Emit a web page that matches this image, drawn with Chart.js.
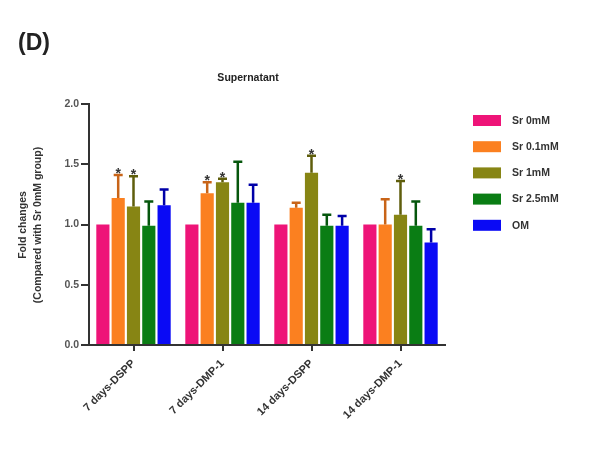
<!DOCTYPE html>
<html>
<head>
<meta charset="utf-8">
<script src="https://cdn.jsdelivr.net/npm/chart.js@4"></script>
<style>
html,body{margin:0;padding:0;background:#fff;}
#wrap{position:relative;width:602px;height:454px;}
</style>
</head>
<body>
<div id="wrap"><canvas id="c" width="602" height="454"></canvas></div>
<script>
const categories = ['7 days-DSPP', '7 days-DMP-1', '14 days-DSPP', '14 days-DMP-1'];
const seriesNames = ['Sr 0mM', 'Sr 0.1mM', 'Sr 1mM', 'Sr 2.5mM', 'OM'];
const sr0 = [1.00, 1.00, 1.00, 1.00];
const sr01 = [1.22, 1.26, 1.14, 1.00];
const sr1 = [1.15, 1.35, 1.43, 1.08];
const sr25 = [0.99, 1.18, 0.99, 0.99];
const om = [1.16, 1.18, 0.99, 0.85];
const sr0Err = [0, 0, 0, 0];
const sr01Err = [0.19, 0.09, 0.04, 0.21];
const sr1Err = [0.25, 0.03, 0.14, 0.28];
const sr25Err = [0.20, 0.34, 0.09, 0.20];
const omErr = [0.13, 0.15, 0.08, 0.11];
const sr0Sig = [0, 0, 0, 0];
const sr01Sig = [1, 1, 0, 0];
const sr1Sig = [1, 1, 1, 1];
const sr25Sig = [0, 0, 0, 0];
const omSig = [0, 0, 0, 0];
const yTicks = [0, 0.5, 1.0, 1.5, 2.0];

const colors = ['#EE1478', '#FB8020', '#878514', '#0A7D14', '#0A0AF5'];
const errColors = ['#B80E5C', '#C86418', '#5F5E0C', '#05560C', '#0000A8'];
const values = [sr0, sr01, sr1, sr25, om];
const errs = [sr0Err, sr01Err, sr1Err, sr25Err, omErr];
const sigs = [sr0Sig, sr01Sig, sr1Sig, sr25Sig, omSig];

const FONT = '"Liberation Sans", Arial, sans-serif';

const datasets = seriesNames.map((n, i) => ({
  label: n,
  data: values[i],
  errs: errs[i],
  sigs: sigs[i],
  backgroundColor: colors[i],
  errColor: errColors[i],
  borderWidth: 0,
  categoryPercentage: 0.86,
  barPercentage: 0.86
}));

const extras = {
  id: 'extras',
  afterDatasetsDraw(chart) {
    const ctx = chart.ctx;
    const y = chart.scales.y;
    chart.data.datasets.forEach((ds, di) => {
      const meta = chart.getDatasetMeta(di);
      meta.data.forEach((bar, i) => {
        const v = ds.data[i], e = ds.errs[i];
        const top = y.getPixelForValue(v + e);
        ctx.save();
        if (e > 0) {
          ctx.strokeStyle = ds.errColor;
          ctx.lineWidth = 2.5;
          ctx.beginPath();
          ctx.moveTo(bar.x, bar.y);
          ctx.lineTo(bar.x, top);
          ctx.moveTo(bar.x - 4.5, top);
          ctx.lineTo(bar.x + 4.5, top);
          ctx.stroke();
        }
        if (ds.sigs[i]) {
          ctx.fillStyle = '#333';
          ctx.font = 'bold 14px ' + FONT;
          ctx.textAlign = 'center';
          ctx.textBaseline = 'alphabetic';
          ctx.fillText('*', bar.x, top + 3);
        }
        ctx.restore();
      });
    });
  },
  afterDraw(chart) {
    const ctx = chart.ctx;
    ctx.save();
    ctx.fillStyle = '#222';
    ctx.font = 'bold 23px ' + FONT;
    ctx.textAlign = 'left';
    ctx.textBaseline = 'middle';
    ctx.fillText('(D)', 18, 44);
    ctx.font = 'bold 10.5px ' + FONT;
    ctx.textAlign = 'center';
    ctx.fillText('Supernatant', 248, 78);
    // y axis title
    ctx.save();
    ctx.translate(23, 225);
    ctx.rotate(-Math.PI / 2);
    ctx.font = 'bold 10.5px ' + FONT;
    ctx.fillStyle = '#333';
    ctx.fillText('Fold changes', 0, 0);
    ctx.fillText('(Compared with Sr 0mM group)', 0, 15);
    ctx.restore();
    // legend
    chart.data.datasets.forEach((ds, i) => {
      const yy = 120 + i * 26.2;
      ctx.fillStyle = ds.backgroundColor;
      ctx.fillRect(473, yy - 5, 28, 11);
      ctx.fillStyle = '#333';
      ctx.font = 'bold 10.5px ' + FONT;
      ctx.textAlign = 'left';
      ctx.textBaseline = 'middle';
      ctx.fillText(ds.label, 512, yy + 1);
    });
    ctx.restore();
  }
};

new Chart(document.getElementById('c'), {
  type: 'bar',
  data: { labels: categories, datasets },
  plugins: [extras],
  options: {
    responsive: false,
    animation: false,
    devicePixelRatio: 1,
    layout: { padding: { left: 0, right: 157, top: 104, bottom: 0 } },
    plugins: { legend: { display: false }, tooltip: { enabled: false } },
    scales: {
      x: {
        afterFit(s) { s.height = 109; },
        grid: { display: true, drawOnChartArea: false, offset: false, tickLength: 6, color: '#333', lineWidth: 2 },
        border: { display: true, color: '#333', width: 2 },
        ticks: { minRotation: 45, maxRotation: 45, color: '#333', font: { family: FONT, size: 11, weight: 'bold' }, padding: 6 }
      },
      y: {
        min: 0, max: 2.0,
        afterFit(s) { s.width = 89; },
        afterBuildTicks(s) { s.ticks = yTicks.map(v => ({ value: v })); },
        grid: { display: true, drawOnChartArea: false, tickLength: 8, color: '#333', lineWidth: 2 },
        border: { display: true, color: '#333', width: 2 },
        ticks: { color: '#555', font: { family: FONT, size: 10.5, weight: 'bold' }, padding: 2, callback: v => Number(v).toFixed(1) }
      }
    }
  }
});
</script>
</body>
</html>
